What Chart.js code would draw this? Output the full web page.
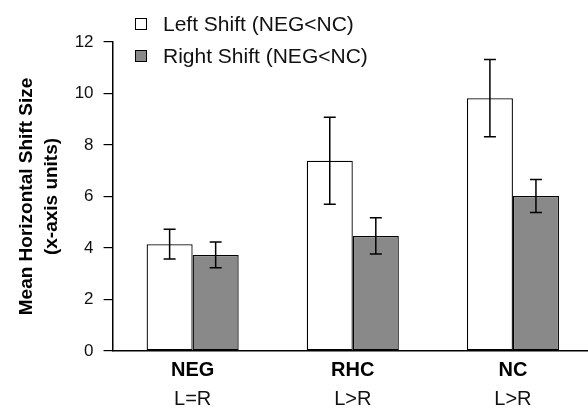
<!DOCTYPE html>
<html>
<head>
<meta charset="utf-8">
<script src="https://cdn.jsdelivr.net/npm/chart.js@4/dist/chart.umd.min.js"></script>
<style>
  html, body { margin: 0; padding: 0; background: #fff; overflow: hidden; }
  #wrap { width: 593px; height: 409px; }
</style>
</head>
<body>
<div id="wrap"><canvas id="shift-chart"></canvas></div>
<script>
/* data */
const groups = ["NEG", "RHC", "NC"]
const contrasts = ["L=R", "L>R", "L>R"]
const leftShift = [4.15, 7.39, 9.82]
const leftShiftErr = [0.58, 1.69, 1.5]
const rightShift = [3.73, 4.47, 6.02]
const rightShiftErr = [0.5, 0.7, 0.64]
const yTicks = [0, 2, 4, 6, 8, 10, 12]

const font = "'Liberation Sans', Arial, sans-serif"

/* error bars, drawn through the y scale */
const errorBars = {
    id: "errorBars",
    afterDatasetsDraw (chart) {
        const ctx = chart.ctx
        const yScale = chart.scales.y
        ctx.save()
        ctx.strokeStyle = "#000"
        ctx.lineWidth = 1.5
        chart.data.datasets.forEach((ds, i) => {
            const meta = chart.getDatasetMeta(i)
            meta.data.forEach((bar, j) => {
                const v = ds.data[j]
                const e = ds.errors[j]
                const top = yScale.getPixelForValue(v + e)
                const bottom = yScale.getPixelForValue(v - e)
                const half = 6
                ctx.beginPath()
                ctx.moveTo(bar.x, top)
                ctx.lineTo(bar.x, bottom)
                ctx.moveTo(bar.x - half, top)
                ctx.lineTo(bar.x + half, top)
                ctx.moveTo(bar.x - half, bottom)
                ctx.lineTo(bar.x + half, bottom)
                ctx.stroke()
            })
        })
        ctx.restore()
    }
}

/* stacked legend in the top left */
const stackedLegend = {
    id: "stackedLegend",
    afterDraw (chart) {
        const ctx = chart.ctx
        ctx.save()
        ctx.font = "21px " + font
        ctx.textBaseline = "middle"
        chart.data.datasets.forEach((ds, i) => {
            const cy = 24 + i * 32
            ctx.fillStyle = ds.backgroundColor
            ctx.fillRect(135, cy - 6, 12, 12)
            ctx.strokeStyle = "#000"
            ctx.lineWidth = 1
            ctx.strokeRect(135.5, cy - 5.5, 11, 11)
            ctx.fillStyle = "#111"
            ctx.fillText(ds.label, 163, cy + 1)
        })
        ctx.restore()
    }
}

const config = {
    type: "bar",
    data: {
        labels: groups,
        datasets: [
            {
                label: "Left Shift (NEG<NC)",
                data: leftShift,
                errors: leftShiftErr,
                backgroundColor: "#ffffff",
                borderColor: "#000",
                borderWidth: 1.3,
                borderSkipped: false
            },
            {
                label: "Right Shift (NEG<NC)",
                data: rightShift,
                errors: rightShiftErr,
                backgroundColor: "#898989",
                borderColor: "#000",
                borderWidth: 1.3,
                borderSkipped: false
            }
        ]
    },
    options: {
        responsive: true,
        maintainAspectRatio: false,
        animation: false,
        categoryPercentage: 0.575,
        barPercentage: 1,
        layout: { padding: { top: 42, left: 14.5, right: 0, bottom: 0 } },
        plugins: {
            legend: { display: false },
            tooltip: { enabled: false }
        },
        scales: {
            x: {
                weight: 1,
                grid: { display: false, drawTicks: false },
                border: { display: true, color: "#000", width: 1.5 },
                ticks: {
                    padding: 9,
                    color: "#000",
                    font: { family: font, size: 20, weight: "bold", lineHeight: 1 }
                }
            },
            x2: {
                type: "category",
                position: "bottom",
                weight: 2,
                labels: contrasts,
                offset: true,
                grid: { display: false, drawTicks: false },
                border: { display: false },
                ticks: {
                    padding: 0,
                    color: "#111",
                    font: { family: font, size: 20, lineHeight: 1 }
                }
            },
            y: {
                min: 0,
                max: 12,
                afterBuildTicks: (scale) => {
                    scale.ticks = yTicks.map(v => ({ value: v }))
                },
                grid: { drawOnChartArea: false, drawTicks: true, tickLength: 9, color: "#000", lineWidth: 1.2 },
                border: { display: true, color: "#000", width: 1.5 },
                ticks: {
                    padding: 10,
                    color: "#111",
                    font: { family: font, size: 17 }
                },
                title: {
                    display: true,
                    text: ["Mean Horizontal Shift Size", "(x-axis units)"],
                    color: "#000",
                    font: { family: font, size: 19, weight: "bold", lineHeight: 1.32 },
                    padding: { top: 0, bottom: 0 }
                }
            }
        }
    },
    plugins: [errorBars, stackedLegend]
}

new Chart(document.querySelector("#shift-chart"), config)
</script>
</body>
</html>
